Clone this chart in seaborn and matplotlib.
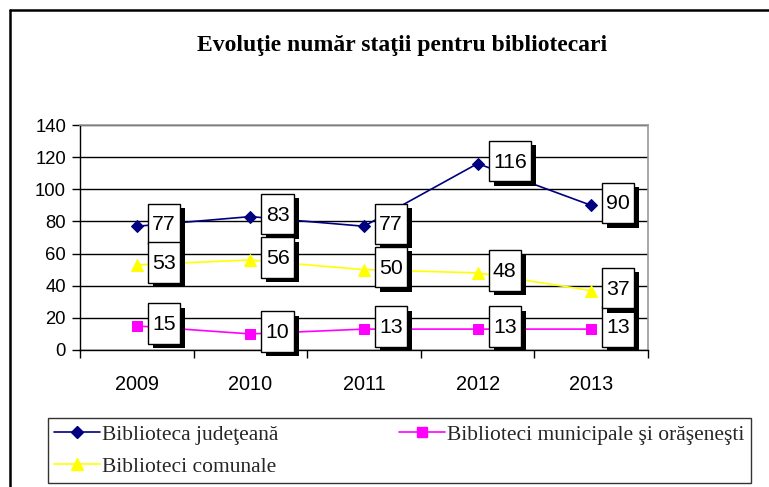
import matplotlib
matplotlib.use("Agg")
import matplotlib.pyplot as plt
import matplotlib.patheffects as pe
from matplotlib.path import Path
from matplotlib.lines import Line2D
import seaborn as sns
import pandas as pd

years = ["2009", "2010", "2011", "2012", "2013"]
judeteana = [77, 83, 77, 116, 90]
municipale = [15, 10, 13, 13, 13]
comunale = [53, 56, 50, 48, 37]

names = ["Biblioteca judeţeană", "Biblioteci municipale şi orăşeneşti", "Biblioteci comunale"]
colors = ["#000080", "#FF00FF", "#FFFF00"]
markers = ["D", "s", "^"]
msizes = [6, 6.5, 8]
series = [judeteana, municipale, comunale]

sns.set_theme(style="white")
plt.rcParams["font.family"] = ["Liberation Sans", "DejaVu Sans"]

fig = plt.figure(figsize=(7.69, 4.87), dpi=100)
ax = fig.add_axes([80/769, 1-350/487, 568/769, 225/487])

handles = []
for name, vals, c, m, ms in zip(names, series, colors, markers, msizes):
    df = pd.DataFrame({"year": years, "val": vals})
    sns.lineplot(data=df, x="year", y="val", ax=ax, color=c, marker=m,
                 markersize=ms, markeredgecolor=c, linewidth=1.2, zorder=2)
    handles.append(Line2D([], [], color=c, marker=m, markersize=ms,
                          markeredgecolor=c, linewidth=1.2, label=name))


class LabelBox:
    """Rectangle with small horizontal padding and fixed (tall) height."""
    def __call__(self, x0, y0, width, height, mutation_size):
        hp = 0.2 * mutation_size
        half = 0.95 * mutation_size
        cy = y0 + height / 2 + 0.05 * mutation_size
        x1 = x0 + width + hp
        x0 = x0 - hp
        ya, yb = cy - half, cy + half
        return Path([(x0, ya), (x1, ya), (x1, yb), (x0, yb), (x0, ya)], closed=True)


for vals in series:
    for i, v in enumerate(vals):
        t = ax.annotate(str(v), (i, v), xytext=(11, 1), textcoords="offset points",
                        ha="left", va="center", fontsize=15.3, color="black",
                        bbox=dict(boxstyle=LabelBox(), fc="white", ec="black", lw=1.0),
                        zorder=4, annotation_clip=False)
        t.get_bbox_patch().set_path_effects([
            pe.SimplePatchShadow(offset=(3.6, -3.2), shadow_rgbFace="black", alpha=1.0),
            pe.Normal()])

ax.set_xlim(-0.5, 4.5)
ax.set_ylim(0, 140)
ax.set_yticks(range(0, 141, 20))
ax.set_xlabel("")
ax.set_ylabel("")
ax.grid(axis="y", color="black", linewidth=1.0)
ax.grid(axis="x", visible=False)
ax.set_axisbelow(True)
for s in ["left", "bottom"]:
    ax.spines[s].set_color("black")
    ax.spines[s].set_linewidth(1.0)
for s in ["top", "right"]:
    ax.spines[s].set_color("#999999")
    ax.spines[s].set_linewidth(1.2)
ax.set_xticks([-0.5 + k for k in range(6)], minor=True)
ax.tick_params(axis="x", which="major", length=0, labelsize=14.3, pad=18, colors="black")
ax.tick_params(axis="x", which="minor", length=6, width=1, direction="out",
               bottom=True, color="black")
ax.tick_params(axis="y", which="major", length=6, width=1, direction="out", left=True,
               labelsize=13.3, pad=4, colors="black")

fig.text(0.523, 1-45/487, "Evoluţie număr staţii pentru bibliotecari",
         ha="center", va="center", fontsize=17, fontweight="bold", color="black",
         family=["Liberation Serif", "DejaVu Serif"])

# outer chart frame (left and top edges)
fig.add_artist(Line2D([10/769, 10/769], [0, 1-10/487], transform=fig.transFigure,
                      color="black", lw=1.8))
fig.add_artist(Line2D([10/769, 1], [1-10/487, 1-10/487], transform=fig.transFigure,
                      color="black", lw=1.8))

leg = fig.legend(handles=[handles[0], handles[2], handles[1]], ncol=2,
                 loc="lower left",
                 bbox_to_anchor=(48/769, 4/487, 703/769, 70/487),
                 mode="expand", frameon=True, fancybox=False, shadow=False,
                 handlelength=2.1, handletextpad=0.12, borderpad=0.3,
                 labelspacing=0.55, columnspacing=1.0, borderaxespad=0,
                 prop={"family": ["Liberation Serif", "DejaVu Serif"], "size": 15.5})
leg.get_frame().set_edgecolor("black")
leg.get_frame().set_linewidth(1.0)

fig.savefig("out.png", dpi=100)
